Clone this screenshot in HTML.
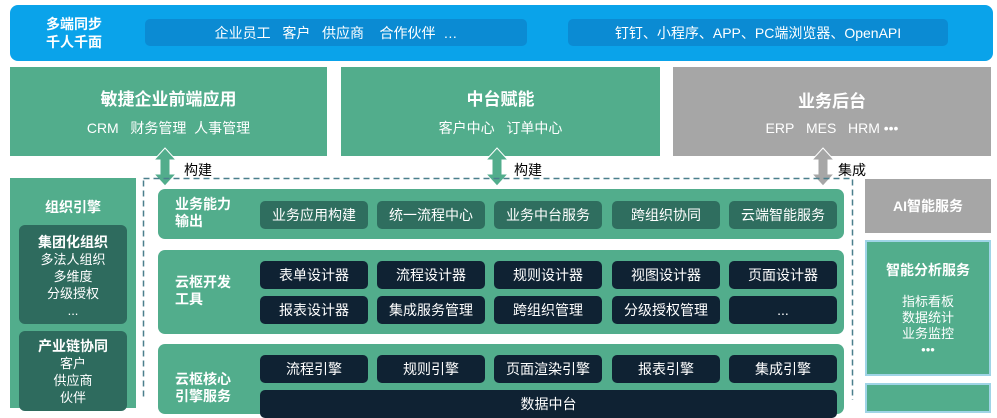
<!DOCTYPE html>
<html><head><meta charset="utf-8"><style>
*{margin:0;padding:0;box-sizing:border-box}
body{width:997px;height:400px;overflow:hidden;background:#fff;position:relative;font-family:"Liberation Sans","Noto Sans CJK SC",sans-serif}
.a{position:absolute}
.c{display:flex;align-items:center;justify-content:center;text-align:center}
.g{background:#52ad8c}
.chip{position:absolute;width:108px;height:28px;border-radius:5px;color:#fff;font-size:14px;display:flex;align-items:center;justify-content:center}
.d1{background:#2f6e5f}
.d2{background:#0f2233}
.lbl{position:absolute;left:175px;color:#fff;font-weight:bold;font-size:14px;line-height:17px}
</style></head><body>
<div class="a" style="left:10px;top:5px;width:983px;height:56px;background:#0aa3ea;border-radius:8px"></div>
<div class="a" style="left:46px;top:15px;color:#fff;font-weight:bold;font-size:14px;line-height:18px">多端同步<br>千人千面</div>
<div class="a c" style="left:145px;top:19px;width:382px;height:27px;background:#0b8bd3;border-radius:5px;color:#fff;font-size:14px">企业员工&nbsp;&nbsp;&nbsp;客户&nbsp;&nbsp;&nbsp;供应商&nbsp;&nbsp;&nbsp;&nbsp;合作伙伴&nbsp;&nbsp;…</div>
<div class="a c" style="left:568px;top:19px;width:380px;height:27px;background:#0b8bd3;border-radius:5px;color:#fff;font-size:14px">钉钉、小程序、APP、PC端浏览器、OpenAPI</div>

<div class="a g c" style="left:10px;top:67px;width:317px;height:89px;flex-direction:column;color:#fff"><div style="font-weight:bold;font-size:17px">敏捷企业前端应用</div><div style="font-size:14px;margin-top:8px">CRM&nbsp;&nbsp;&nbsp;财务管理&nbsp;&nbsp;人事管理</div></div>
<div class="a g c" style="left:341px;top:67px;width:319px;height:89px;flex-direction:column;color:#fff"><div style="font-weight:bold;font-size:17px">中台赋能</div><div style="font-size:14px;margin-top:8px">客户中心&nbsp;&nbsp;&nbsp;订单中心</div></div>
<div class="a c" style="left:673px;top:67px;width:318px;height:89px;background:#a6a6a6;flex-direction:column;color:#fff"><div style="font-weight:bold;font-size:17px">业务后台</div><div style="font-size:14px;margin-top:8px">ERP&nbsp;&nbsp;&nbsp;MES&nbsp;&nbsp;&nbsp;HRM •••</div></div>

<svg class="a" style="left:0;top:0" width="997" height="400">
<g fill="#52ad8c" stroke="#fff" stroke-width="1">
<polygon points="165,148 176,160 170,160 170,174 176,174 165,186 154,174 160,174 160,160 154,160"/>
<polygon points="497,148 508,160 502,160 502,174 508,174 497,186 486,174 492,174 492,160 486,160"/>
</g>
<polygon fill="#a6a6a6" stroke="#fff" points="823,148 834,160 828,160 828,174 834,174 823,186 812,174 818,174 818,160 812,160"/>
<rect x="143.5" y="178.5" width="709" height="240" fill="none" stroke="#4a7f8c" stroke-width="1.5" stroke-dasharray="6,4"/>
</svg>
<div class="a" style="left:184px;top:160px;font-size:14px">构建</div>
<div class="a" style="left:514px;top:160px;font-size:14px">构建</div>
<div class="a" style="left:838px;top:160px;font-size:14px">集成</div>

<div class="a g" style="left:10px;top:178px;width:126px;height:230px"></div>
<div class="a" style="left:10px;top:197px;width:126px;text-align:center;color:#fff;font-weight:bold;font-size:14px">组织引擎</div>
<div class="a" style="left:19px;top:225px;width:108px;height:99px;background:#2e6b5e;border-radius:6px;color:#fff;text-align:center;font-size:13px;line-height:17px;padding-top:9px"><b style="font-size:14px">集团化组织</b><br>多法人组织<br>多维度<br>分级授权<br>...</div>
<div class="a" style="left:19px;top:331px;width:108px;height:80px;background:#2e6b5e;border-radius:6px;color:#fff;text-align:center;font-size:13px;line-height:17px;padding-top:7px"><b style="font-size:14px">产业链协同</b><br>客户<br>供应商<br>伙伴</div>

<div class="a g" style="left:158px;top:189px;width:686px;height:50px;border-radius:7px"></div>
<div class="lbl" style="top:196px">业务能力<br>输出</div>
<div class="chip d1" style="left:260px;top:201px">业务应用构建</div>
<div class="chip d1" style="left:377px;top:201px">统一流程中心</div>
<div class="chip d1" style="left:494px;top:201px">业务中台服务</div>
<div class="chip d1" style="left:612px;top:201px">跨组织协同</div>
<div class="chip d1" style="left:729px;top:201px">云端智能服务</div>

<div class="a g" style="left:158px;top:250px;width:686px;height:84px;border-radius:7px"></div>
<div class="lbl" style="top:274px">云枢开发<br>工具</div>
<div class="chip d2" style="left:260px;top:261px">表单设计器</div>
<div class="chip d2" style="left:377px;top:261px">流程设计器</div>
<div class="chip d2" style="left:494px;top:261px">规则设计器</div>
<div class="chip d2" style="left:612px;top:261px">视图设计器</div>
<div class="chip d2" style="left:729px;top:261px">页面设计器</div>
<div class="chip d2" style="left:260px;top:296px">报表设计器</div>
<div class="chip d2" style="left:377px;top:296px">集成服务管理</div>
<div class="chip d2" style="left:494px;top:296px">跨组织管理</div>
<div class="chip d2" style="left:612px;top:296px">分级授权管理</div>
<div class="chip d2" style="left:729px;top:296px">...</div>

<div class="a g" style="left:158px;top:344px;width:686px;height:70px;border-radius:7px"></div>
<div class="lbl" style="top:371px">云枢核心<br>引擎服务</div>
<div class="chip d2" style="left:260px;top:355px">流程引擎</div>
<div class="chip d2" style="left:377px;top:355px">规则引擎</div>
<div class="chip d2" style="left:494px;top:355px">页面渲染引擎</div>
<div class="chip d2" style="left:612px;top:355px">报表引擎</div>
<div class="chip d2" style="left:729px;top:355px">集成引擎</div>
<div class="chip d2" style="left:260px;top:390px;width:577px">数据中台</div>

<div class="a c" style="left:865px;top:179px;width:126px;height:54px;background:#a6a6a6;color:#fff;font-weight:bold;font-size:14px">AI智能服务</div>
<div class="a" style="left:865px;top:240px;width:126px;height:136px;background:#52ad8c;border:2px solid #9fd4e6;color:#fff;text-align:center">
<div style="font-weight:bold;font-size:14px;margin-top:18px">智能分析服务</div>
<div style="font-size:13px;line-height:16px;margin-top:14px">指标看板<br>数据统计<br>业务监控<br>•••</div></div>
<div class="a" style="left:865px;top:383px;width:126px;height:30px;background:#52ad8c;border:2px solid #9fd4e6"></div>
</body></html>
